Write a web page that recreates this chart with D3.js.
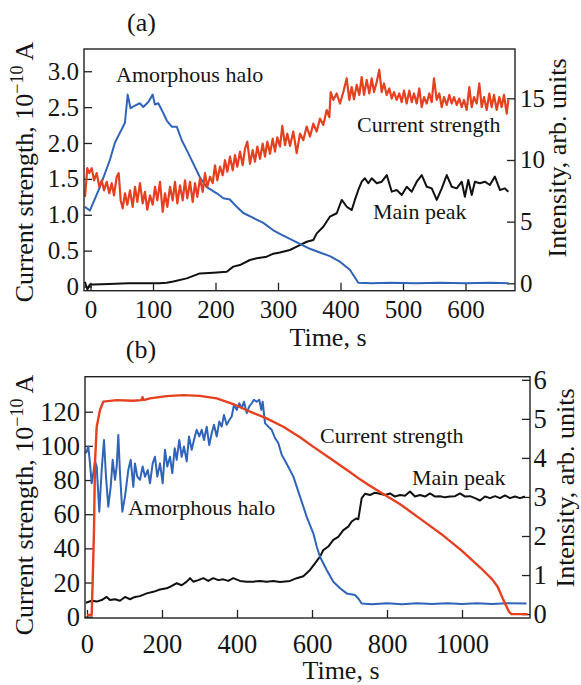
<!DOCTYPE html>
<html>
<head>
<meta charset="utf-8">
<script src="https://cdn.jsdelivr.net/npm/d3@7"></script>
<style>
  body { margin: 0; background: #fff; }
  svg text { font-family: "Liberation Serif", "Times New Roman", serif; fill: #151515; }
</style>
</head>
<body>
<div id="chart"></div>
<script>
// ---- panel (a) data: [time s, value] ----
// current strength, 10^-10 A (left axis)
const currentA = [[-8.8,1.25],[-5.1,1.65],[-1.9,1.58],[1.9,1.65],[5.6,1.48],[9.9,1.58],[14.1,1.39],[17.9,1.48],[21.6,1.34],[25.9,1.46],[30.1,1.30],[33.9,1.44],[37.6,1.27],[41.9,1.53],[45.1,1.58],[48.3,1.20],[51.5,1.09],[55.2,1.30],[58.9,1.14],[63.2,1.34],[67.5,1.11],[71.2,1.39],[74.9,1.18],[79.2,1.44],[83.5,1.16],[87.2,1.32],[90.9,1.07],[95.2,1.27],[99.5,1.14],[103.2,1.39],[106.9,1.20],[111.2,1.46],[115.5,1.04],[119.2,1.30],[122.9,1.11],[127.2,1.39],[131.5,1.20],[135.2,1.46],[138.9,1.16],[143.2,1.41],[147.5,1.20],[151.2,1.48],[154.9,1.23],[159.2,1.46],[163.5,1.18],[167.2,1.44],[170.9,1.25],[175.2,1.51],[179.5,1.32],[183.2,1.58],[186.9,1.39],[191.2,1.53],[195.5,1.44],[199.2,1.69],[202.9,1.48],[207.2,1.67],[211.5,1.55],[215.2,1.76],[218.9,1.60],[223.2,1.81],[227.5,1.62],[231.2,1.83],[234.9,1.67],[239.2,1.88],[243.5,1.69],[247.2,1.92],[250.9,2.02],[255.2,1.71],[259.5,1.90],[263.2,1.74],[266.9,1.95],[271.2,1.78],[275.5,1.99],[279.2,1.81],[282.9,2.02],[287.2,1.85],[291.5,2.06],[295.2,1.88],[298.9,2.08],[303.2,1.95],[306.9,2.24],[311.2,1.97],[314.9,2.13],[319.2,1.96],[324.5,2.16],[329.9,1.86],[335.2,2.13],[340.5,2.04],[345.9,2.23],[351.2,2.09],[356.5,2.27],[361.9,2.16],[367.2,2.34],[372.5,2.25],[377.9,2.46],[382.1,2.36],[384.3,2.71],[388.5,2.60],[393.9,2.69],[399.2,2.55],[404.5,2.71],[409.9,2.90],[414.1,2.60],[417.9,2.78],[421.6,2.61],[425.9,2.81],[430.1,2.67],[433.9,2.92],[437.6,2.67],[441.9,2.88],[446.1,2.69],[449.9,2.90],[453.6,2.71],[457.9,2.85],[462.1,3.02],[465.9,2.71],[469.6,2.83],[473.9,2.67],[478.1,2.76],[481.9,2.62],[485.6,2.71],[489.9,2.60],[494.1,2.69],[497.9,2.57],[501.6,2.73],[505.9,2.55],[510.1,2.73],[513.9,2.57],[517.6,2.69],[521.9,2.55],[526.1,2.76],[529.9,2.50],[533.6,2.64],[537.9,2.55],[542.1,2.69],[545.9,2.57],[549.6,2.90],[553.9,2.60],[558.1,2.69],[561.9,2.50],[565.6,2.64],[569.9,2.53],[574.1,2.67],[577.9,2.55],[581.6,2.64],[585.9,2.53],[590.1,2.62],[593.9,2.50],[597.6,2.60],[601.9,2.46],[606.1,2.78],[609.9,2.50],[613.6,2.64],[617.9,2.55],[622.1,2.83],[625.9,2.50],[629.6,2.64],[633.9,2.46],[638.1,2.69],[641.9,2.50],[645.6,2.67],[649.9,2.46],[654.1,2.64],[657.9,2.50],[661.6,2.67],[665.9,2.41],[668.5,2.60]];
// amorphous halo intensity, arb. units (right axis)
const haloA = [[-9,6.2],[-1,5.9],[15,7.8],[31,10.0],[39,11.4],[47,12.2],[55,13.0],[59.5,15.3],[64,14.2],[71,14.4],[79,14.6],[84.5,14.3],[92.5,14.7],[99.5,15.3],[103,14.5],[108.5,14.6],[116.5,13.8],[122,13.2],[130,12.7],[138,12.7],[146,11.6],[154,10.8],[164.5,9.7],[175,8.6],[186,7.8],[202,7.3],[212.5,6.9],[223,6.8],[234,6.2],[244.5,5.7],[260.5,5.3],[276.5,4.9],[292.5,4.3],[303,4.0],[319,3.6],[335,3.2],[351,2.8],[367,2.5],[383,2.2],[399,1.75],[415,1.1],[428.5,0.05],[450,0.0],[480,0.05],[520,0.0],[560,0.05],[600,0.0],[640,0.05],[669,0.0]];
// main peak intensity, arb. units (right axis)
const peakA = [[-9,0.13],[-5,-0.5],[-1,-0.1],[4.5,-0.1],[30,-0.05],[60,0.0],[90,0.0],[110,0.0],[122,0.05],[132.5,0.15],[154,0.4],[175,0.8],[196.5,0.86],[218,0.94],[228.5,1.35],[239,1.48],[255,1.89],[266,2.03],[282,2.16],[292.5,2.4],[303,2.5],[319,2.7],[330,2.97],[346,3.37],[356.5,3.51],[362,4.05],[372.5,4.59],[383,5.4],[394,5.68],[402,6.76],[410,6.21],[418,5.94],[423,6.76],[428.5,7.57],[434,8.24],[439,8.52],[444.5,8.11],[450,8.52],[458,8.11],[466,8.24],[474,8.78],[482,7.43],[490,7.57],[498,7.16],[506,7.83],[514,7.43],[522,8.24],[530,8.78],[538,7.83],[546,7.7],[554,6.76],[562,7.7],[570,8.78],[578,7.83],[586,7.7],[594,8.24],[599,7.02],[604.5,8.38],[610,7.16],[615,8.24],[623,8.11],[631,8.24],[639,7.97],[647,8.65],[655,7.57],[663,7.7],[668.5,7.43]];

// ---- panel (b) data ----
const currentB = [[0,1],[12.5,1],[15,19.5],[18.7,50.8],[21.3,89.8],[25.9,111.2],[34.7,121],[43.5,125.9],[79,126.8],[123.5,126.4],[145,126.8],[148,128.5],[151,126.8],[168,127.8],[212.5,129.1],[257,129.7],[301,129.3],[346,127.8],[390,124.5],[435,120],[479,116.1],[523.5,111.2],[568,105],[600,100],[650,92.5],[700,84.8],[728,80.4],[750,77.3],[800,70.5],[835,65.8],[850,63.5],[900,55.5],[950,47.5],[1000,38.5],[1050,28.5],[1080,22],[1095,17.5],[1110,10],[1125,3],[1132,1.5],[1175,1.5]];
const haloB = [[-2.7,4.12],[3.5,4.29],[8,3.86],[12.5,3.35],[16.8,3.61],[21.3,3.91],[25.9,3.78],[32.8,2.62],[39.2,3.69],[45.3,4.46],[50.7,3.52],[56.8,2.75],[63.2,3.26],[68.5,3.95],[74.7,3.44],[79.2,3.78],[83.5,4.59],[88,3.61],[94.2,2.62],[101.3,3.01],[110.1,3.69],[116.5,3.95],[123.5,3.26],[128,3.86],[134.1,3.52],[141.3,3.44],[148.5,3.78],[154.7,3.52],[161.9,3.69],[168,3.35],[175.2,3.86],[181.3,4.03],[187.5,3.52],[194.7,3.86],[201.9,3.35],[208,4.21],[214.1,3.78],[221.3,4.03],[227.5,3.61],[233.9,4.25],[239.2,3.95],[246.1,4.46],[252.5,4.03],[258.7,4.29],[265.9,3.91],[272,4.55],[279.2,4.21],[285.3,4.46],[292.5,4.72],[299.5,4.55],[305.9,4.72],[312,4.46],[319.2,4.80],[326.1,4.33],[332.5,4.63],[338.7,4.85],[345.9,4.55],[352.8,4.93],[359.2,4.80],[365.3,5.10],[372.5,4.85],[379.5,4.97],[385.9,5.06],[392,5.36],[399.2,5.23],[406.1,5.40],[412.5,5.27],[418.7,5.44],[425.9,5.15],[432.8,5.32],[439.2,5.40],[445.3,5.49],[452.5,5.44],[459.5,5.49],[464.8,5.23],[468.5,5.44],[474.7,4.89],[483.5,4.80],[492.5,4.72],[501.3,4.51],[510.1,4.38],[519.2,4.08],[532.5,3.85],[550.3,3.52],[568,3.01],[585.9,2.49],[603.5,2.07],[612.5,1.73],[621.3,1.47],[639.2,1.13],[656.8,0.83],[674.7,0.66],[692.5,0.53],[714.7,0.49],[723.5,0.40],[732.5,0.27],[760,0.25],[800,0.28],[840,0.25],[880,0.28],[920,0.26],[960,0.28],[1000,0.26],[1040,0.28],[1080,0.26],[1120,0.28],[1172,0.27]];
const peakB = [[-2.7,0.29],[12.5,0.34],[25.9,0.32],[39.2,0.36],[52.5,0.44],[61.3,0.36],[74.7,0.38],[88,0.34],[101.3,0.44],[114.7,0.38],[128,0.44],[141.3,0.46],[159.2,0.53],[176.8,0.57],[194.7,0.63],[212.5,0.66],[225.9,0.72],[239.2,0.79],[252.5,0.74],[265.9,0.83],[274.7,0.92],[283.5,0.83],[296.8,0.87],[310.1,0.92],[323.5,0.85],[336.8,0.92],[350.1,0.87],[363.5,0.89],[376.8,0.85],[390.1,0.92],[408,0.85],[425.9,0.83],[443.5,0.83],[461.3,0.85],[479.2,0.83],[496.8,0.85],[514.7,0.82],[541.3,0.85],[559.2,0.92],[576.8,0.97],[594.7,1.13],[608,1.30],[621.3,1.47],[630.2,1.64],[643.5,1.73],[656.8,1.90],[670.1,1.98],[683.5,2.15],[696.8,2.24],[705.9,2.37],[717.3,2.45],[723.5,2.43],[732.5,2.97],[741.3,3.08],[754.7,3.05],[768,3.11],[781.3,3.08],[794.7,3.05],[808,3.09],[821.3,3.01],[834.7,3.05],[848,3.03],[861.3,3.14],[874.7,3.01],[888,3.05],[901.3,3.01],[914.7,3.09],[928,3.01],[941.3,3.02],[954.7,2.99],[968,3.01],[981.3,3.02],[994.7,3.09],[1008,3.01],[1021.3,3.02],[1034.7,2.97],[1048,2.91],[1061.3,3.01],[1074.7,2.97],[1088,3.02],[1101.3,2.97],[1114.7,3.04],[1128,2.97],[1141.3,3.01],[1154.7,2.97],[1168,3.01]];

// ticks
const xTicksA = [0, 100, 200, 300, 400, 500, 600];
const yLTicksA = [0, 0.5, 1.0, 1.5, 2.0, 2.5, 3.0];
const yRTicksA = [0, 5, 10, 15];
const xTicksB = [0, 200, 400, 600, 800, 1000];
const yLTicksB = [0, 20, 40, 60, 80, 100, 120];
const yRTicksB = [0, 1, 2, 3, 4, 5, 6];

const RED = '#e5401f', BLUE = '#2f64b9', BLACK = '#111';

const svg = d3.select('#chart').append('svg').attr('width', 581).attr('height', 685);

function panel(o) {
    const x = d3.scaleLinear().domain(o.xDomain).range([o.left, o.right]);
    const yL = d3.scaleLinear().domain(o.yLDomain).range([o.bottom, o.top]);
    const yR = d3.scaleLinear().domain(o.yRDomain).range([o.bottom, o.top]);
    const g = svg.append('g');

    g.append('g')
        .attr('transform', 'translate(0,' + o.bottom + ')')
        .style('font-size', o.tickFont + 'px')
        .call(d3.axisBottom(x).tickValues(o.xTicks).tickSize(-8).tickSizeOuter(0).tickPadding(o.padB).tickFormat(d3.format('d')));
    g.append('g')
        .attr('transform', 'translate(' + o.left + ',0)')
        .style('font-size', o.tickFont + 'px')
        .call(d3.axisLeft(yL).tickValues(o.yLTicks).tickSize(-8).tickSizeOuter(0).tickPadding(5).tickFormat(o.fmtL));
    g.append('g')
        .attr('transform', 'translate(' + o.right + ',0)')
        .style('font-size', o.tickFont + 'px')
        .call(d3.axisRight(yR).tickValues(o.yRTicks).tickSize(-8).tickSizeOuter(0).tickPadding(o.padR).tickFormat(d3.format('d')));
    g.selectAll('.domain').remove();
    g.selectAll('.tick line').attr('stroke', '#222').attr('stroke-width', 1.3);
    g.selectAll('.tick text').attr('fill', '#151515').style('font-family', '"Liberation Serif","Times New Roman",serif');

    const clip = 'clip' + o.name;
    g.append('clipPath').attr('id', clip).append('rect')
        .attr('x', o.left).attr('y', o.top).attr('width', o.right - o.left).attr('height', o.bottom - o.top);

    o.series.forEach((s) => {
        const yy = s.axis === 'L' ? yL : yR;
        const line = d3.line().x((d) => x(d[0])).y((d) => yy(d[1]));
        g.append('path')
            .attr('clip-path', 'url(#' + clip + ')')
            .attr('d', line(s.data))
            .attr('fill', 'none')
            .attr('stroke', s.color)
            .attr('stroke-width', s.width)
            .attr('stroke-linejoin', 'round');
    });

    g.append('rect')
        .attr('x', o.left).attr('y', o.top).attr('width', o.right - o.left).attr('height', o.bottom - o.top)
        .attr('fill', 'none').attr('stroke', '#222').attr('stroke-width', 1.4);

    // titles
    g.append('text').attr('x', o.tag[0]).attr('y', o.tag[1]).attr('text-anchor', 'middle')
        .style('font-size', '26px').text(o.tag[2]);
    g.append('text').attr('x', o.xLab[0]).attr('y', o.xLab[1]).attr('text-anchor', 'middle')
        .style('font-size', '26px').text('Time, s');

    const lt = g.append('text')
        .attr('transform', 'translate(' + o.yLLab[0] + ',' + o.yLLab[1] + ') rotate(-90)')
        .attr('text-anchor', 'middle').style('font-size', '26px');
    lt.append('tspan').text('Current strength, 10');
    lt.append('tspan').attr('dy', -10).style('font-size', '18px').text('\u221210');
    lt.append('tspan').attr('dy', 10).text(' A');

    g.append('text')
        .attr('transform', 'translate(' + o.yRLab[0] + ',' + o.yRLab[1] + ') rotate(-90)')
        .attr('text-anchor', 'middle').style('font-size', '26px')
        .text('Intensity, arb. units');

    o.notes.forEach((n) => {
        g.append('text').attr('x', n[1]).attr('y', n[2]).style('font-size', '22px').text(n[0]);
    });
}

panel({
    name: 'a', left: 84, right: 515, top: 49, bottom: 290.7,
    xDomain: [-10.4, 679.2], yLDomain: [-0.058, 3.31], yRDomain: [-0.6, 19.0],
    xTicks: xTicksA, yLTicks: yLTicksA, yRTicks: yRTicksA,
    fmtL: (d) => d === 0 ? '0' : d3.format('.1f')(d),
    tickFont: 25, padB: 9.5, padR: 5,
    series: [
        {data: peakA, axis: 'R', color: BLACK, width: 2},
        {data: haloA, axis: 'R', color: BLUE, width: 2},
        {data: currentA, axis: 'L', color: RED, width: 2.2}
    ],
    tag: [141.5, 31, '(a)'], xLab: [328, 346],
    yLLab: [33, 172], yRLab: [566, 158],
    notes: [['Amorphous halo', 116, 82], ['Current strength', 357, 132], ['Main peak', 373, 219]]
});

panel({
    name: 'b', left: 85, right: 530, top: 376.7, bottom: 618,
    xDomain: [-5.3, 1181.3], yLDomain: [-0.76, 140.5], yRDomain: [-0.1, 6.08],
    xTicks: xTicksB, yLTicks: yLTicksB, yRTicks: yRTicksB,
    fmtL: d3.format('d'),
    tickFont: 26.5, padB: 16.5, padR: 3.5,
    series: [
        {data: peakB, axis: 'R', color: BLACK, width: 2},
        {data: haloB, axis: 'R', color: BLUE, width: 2},
        {data: currentB, axis: 'L', color: RED, width: 2.4}
    ],
    tag: [141, 358, '(b)'], xLab: [341, 679],
    yLLab: [33, 505], yRLab: [574, 488],
    notes: [['Amorphous halo', 128, 515], ['Current strength', 320, 443], ['Main peak', 412, 485]]
});
</script>
</body>
</html>
